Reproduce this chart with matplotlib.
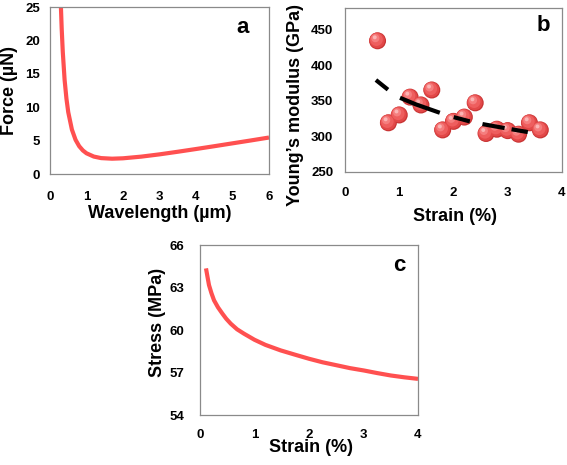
import matplotlib
matplotlib.use("Agg")
import matplotlib.pyplot as plt
from matplotlib.transforms import offset_copy

# ---------------- data ----------------
# panel a: force vs wavelength
wavelength = [0.29, 0.32, 0.35, 0.40, 0.45, 0.50, 0.60, 0.70, 0.80, 0.90, 1.0,
              1.2, 1.4, 1.7, 2.0, 2.5, 3.0, 3.5, 4.0, 4.5, 5.0, 5.5, 6.0]
force = [26.4, 21.8, 18.3, 14.1, 11.3, 9.25, 6.65, 5.12, 4.16, 3.53, 3.10,
         2.61, 2.38, 2.29, 2.35, 2.60, 2.94, 3.33, 3.74, 4.16, 4.59, 5.02, 5.46]

# panel b: Young's modulus vs strain
strain_b = [0.6, 0.8, 1.0, 1.2, 1.4, 1.6, 1.8, 2.0, 2.2, 2.4, 2.6, 2.8, 3.0, 3.2, 3.4, 3.6]
modulus = [434, 319, 330, 355, 344, 365, 309, 321, 327, 347, 304, 310, 308, 303, 319, 309]
trend_x = [0.57, 0.8, 1.0, 1.3, 1.75, 2.0, 2.3, 2.55, 2.95, 3.37]
trend_y = [379, 365, 354.5, 345, 333, 327, 321, 317, 311.5, 306]

# panel c: stress vs strain
strain_c = [0.11, 0.14, 0.165, 0.21, 0.257, 0.33, 0.41, 0.48, 0.563, 0.68, 0.807,
            1.0, 1.2, 1.48, 1.75, 2.0, 2.25, 2.52, 2.75, 3.01, 3.25, 3.5, 3.75, 4.0]
stress = [64.35, 63.7, 63.17, 62.6, 62.1, 61.6, 61.16, 60.8, 60.45, 60.05, 59.74,
          59.31, 58.95, 58.56, 58.25, 57.97, 57.72, 57.5, 57.31, 57.14, 56.96, 56.79, 56.66, 56.55]

ticks_a_x = [0, 1, 2, 3, 4, 5, 6]
ticks_a_y = [0, 5, 10, 15, 20, 25]
ticks_b_x = [0, 1, 2, 3, 4]
ticks_b_y = [250, 300, 350, 400, 450]
ticks_c_x = [0, 1, 2, 3, 4]
ticks_c_y = [54, 57, 60, 63, 66]

# ---------------- style ----------------
W, H = 567, 465
RED = "#ff5050"
FRAME = "#8a8a8a"
FONT = "Liberation Sans"
TICKFS = 9.5
LABFS = 13

fig = plt.figure(figsize=(W / 100, H / 100), dpi=100)


def axes_px(left, top, right, bottom):
    return fig.add_axes([left / W, 1 - bottom / H, (right - left) / W, (bottom - top) / H])


def style(ax, xt, yt, xpad, ypad):
    for s in ax.spines.values():
        s.set_color(FRAME)
        s.set_linewidth(0.9)
    ax.set_xticks(xt)
    ax.set_yticks(yt)
    ax.tick_params(length=0, labelsize=TICKFS, pad=xpad, axis="x")
    ax.tick_params(length=0, labelsize=TICKFS, pad=ypad, axis="y")
    for lab in ax.get_xticklabels() + ax.get_yticklabels():
        lab.set_fontweight("bold")
        lab.set_fontfamily(FONT)


# ---- panel a ----
axa = axes_px(50, 7, 269, 174)
axa.plot(wavelength, force, color=RED, lw=3.0, solid_capstyle="butt")
axa.set_xlim(0, 6)
axa.set_ylim(0, 25)
style(axa, ticks_a_x, ticks_a_y, 12, 7)
axa.set_xlabel("Wavelength (\u00b5m)", fontsize=LABFS, fontweight="bold", family=FONT, va="center")
axa.xaxis.set_label_coords(0.5, -0.235)
axa.set_ylabel("Force (\u00b5N)", fontsize=LABFS, fontweight="bold", family=FONT, va="center")
axa.yaxis.set_label_coords(-0.183, 0.5)
axa.text(0.877, 0.88, "a", transform=axa.transAxes, fontsize=16, fontweight="bold",
         family=FONT, ha="center", va="center")

# ---- panel b ----
axb = axes_px(345, 8, 562, 172)
layers = [
    ("#c83434", 150, 0, 0),
    ("#e24848", 125, -0.3, 0.3),
    ("#ee5e5e", 85, -0.8, 0.9),
    ("#f57e7e", 35, -1.6, 1.9),
    ("#fbb4b4", 8, -2.0, 2.5),
]
for col, size, dx, dy in layers:
    tr = offset_copy(axb.transData, fig=fig, x=dx, y=dy, units="points")
    axb.scatter(strain_b, modulus, s=size, color=col, edgecolors="none", transform=tr, zorder=2)
axb.plot(trend_x, trend_y, color="black", lw=3.0, solid_capstyle="butt", dash_capstyle="butt",
         linestyle=(0, (3.7, 3.5, 10.2, 3.5, 4.0, 3.1, 5.4, 1.7, 4.0, 40)), zorder=3)
axb.set_xlim(0, 4)
axb.set_ylim(250, 480)
style(axb, ticks_b_x, ticks_b_y, 11, 8.5)
axb.set_xlabel("Strain (%)", fontsize=LABFS, fontweight="bold", family=FONT, va="center")
axb.xaxis.set_label_coords(0.507, -0.274)
axb.set_ylabel("Young\u2019s modulus (GPa)", fontsize=LABFS, fontweight="bold", family=FONT, va="center")
axb.yaxis.set_label_coords(-0.23, 0.41)
axb.text(0.912, 0.896, "b", transform=axb.transAxes, fontsize=16, fontweight="bold",
         family=FONT, ha="center", va="center")

# ---- panel c ----
axc = axes_px(200, 245, 418, 415)
axc.plot(strain_c, stress, color=RED, lw=3.0, solid_capstyle="butt")
axc.set_xlim(0, 4)
axc.set_ylim(54, 66)
style(axc, ticks_c_x, ticks_c_y, 10, 11)
axc.set_xlabel("Strain (%)", fontsize=LABFS, fontweight="bold", family=FONT, va="center")
axc.xaxis.set_label_coords(0.51, -0.194)
axc.set_ylabel("Stress (MPa)", fontsize=LABFS, fontweight="bold", family=FONT, va="center")
axc.yaxis.set_label_coords(-0.197, 0.547)
axc.text(0.913, 0.882, "c", transform=axc.transAxes, fontsize=16, fontweight="bold",
         family=FONT, ha="center", va="center")

fig.savefig("out.png", dpi=100)
